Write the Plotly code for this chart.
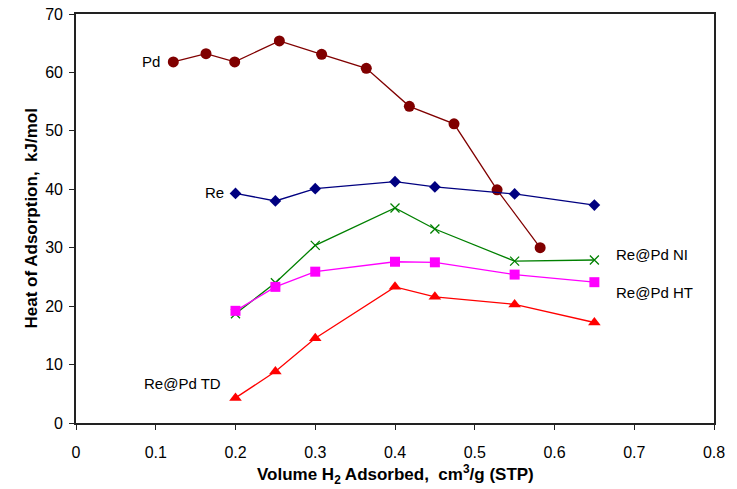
import plotly.graph_objects as go

pd_x = [0.122, 0.163, 0.199, 0.255, 0.308, 0.364, 0.418, 0.474, 0.528, 0.582]
pd_y = [61.8, 63.2, 61.8, 65.4, 63.1, 60.7, 54.2, 51.2, 39.9, 30.0]

re_x = [0.2, 0.25, 0.3, 0.4, 0.45, 0.55, 0.65]
re_y = [39.3, 38.0, 40.1, 41.3, 40.4, 39.2, 37.3]

ni_x = [0.2, 0.25, 0.3, 0.4, 0.45, 0.55, 0.65]
ni_y = [18.7, 24.0, 30.4, 36.8, 33.2, 27.7, 27.9]

ht_x = [0.2, 0.25, 0.3, 0.4, 0.45, 0.55, 0.65]
ht_y = [19.2, 23.3, 25.9, 27.6, 27.5, 25.4, 24.1]

td_x = [0.2, 0.25, 0.3, 0.4, 0.45, 0.55, 0.65]
td_y = [4.3, 8.8, 14.5, 23.3, 21.6, 20.3, 17.2]

labels = ["Pd", "Re", "Re@Pd NI", "Re@Pd HT", "Re@Pd TD"]
label_x = [0.108, 0.188, 0.675, 0.675, 0.134]
label_y = [61.8, 39.4, 28.8, 22.4, 6.7]
label_anchor = ["right", "right", "left", "left", "center"]

x_title = "<b>Volume H<sub>2</sub> Adsorbed,  cm<sup>3</sup>/g (STP)</b>"
y_title = "<b>Heat of Adsorption,  kJ/mol</b>"

x_range = [0, 0.8]
y_range = [0, 70]

fig = go.Figure()
fig.add_trace(go.Scatter(x=pd_x, y=pd_y, mode="lines+markers", name="Pd",
                         line=dict(color="#800000", width=1.3),
                         marker=dict(symbol="circle", size=11, color="#800000")))
fig.add_trace(go.Scatter(x=re_x, y=re_y, mode="lines+markers", name="Re",
                         line=dict(color="#000080", width=1.3),
                         marker=dict(symbol="diamond", size=9, color="#000080")))
fig.add_trace(go.Scatter(x=ni_x, y=ni_y, mode="lines+markers", name="Re@Pd NI",
                         line=dict(color="#008000", width=1.3),
                         marker=dict(symbol="x-thin", size=9, color="#008000",
                                     line=dict(color="#008000", width=1.3))))
fig.add_trace(go.Scatter(x=ht_x, y=ht_y, mode="lines+markers", name="Re@Pd HT",
                         line=dict(color="#FF00FF", width=1.3),
                         marker=dict(symbol="square", size=10, color="#FF00FF")))
fig.add_trace(go.Scatter(x=td_x, y=td_y, mode="lines+markers", name="Re@Pd TD",
                         line=dict(color="#FF0000", width=1.3),
                         marker=dict(symbol="triangle-up", size=11, color="#FF0000")))
# empty trace so the overlay axes (which carry the tick labels) exist
fig.add_trace(go.Scatter(x=[], y=[], xaxis="x2", yaxis="y2", showlegend=False,
                         hoverinfo="skip"))

for t, x, y, a in zip(labels, label_x, label_y, label_anchor):
    fig.add_annotation(x=x, y=y, text=t, showarrow=False, xanchor=a,
                       yanchor="middle", font=dict(size=15, color="#000000",
                                                   family="Liberation Sans, Arial"))

# axis titles as annotations so they sit exactly where the reference has them
fig.add_annotation(xref="paper", yref="paper", x=-0.069, y=0.5, text=y_title,
                   textangle=-90, showarrow=False, xanchor="center", yanchor="middle",
                   font=dict(size=17, color="#000000", family="Liberation Sans, Arial"))
fig.add_annotation(xref="paper", yref="paper", x=0.5, y=-0.125, text=x_title,
                   showarrow=False, xanchor="center", yanchor="middle",
                   font=dict(size=17, color="#000000", family="Liberation Sans, Arial"))

fig.update_layout(
    width=737, height=489,
    margin=dict(l=76, r=23, t=14, b=66),
    plot_bgcolor="white", paper_bgcolor="white",
    showlegend=False,
    font=dict(family="Liberation Sans, Arial", size=15, color="#000000"),
    # primary axes: frame and tick marks only
    xaxis=dict(range=x_range, dtick=0.1, tick0=0, showgrid=False, zeroline=False,
               showline=True, linecolor="#222222", linewidth=1.5, mirror=True,
               ticks="outside", ticklen=5, tickcolor="#222222", automargin=False,
               showticklabels=False),
    yaxis=dict(range=y_range, dtick=10, showgrid=False, zeroline=False,
               showline=True, linecolor="#222222", linewidth=1.5, mirror=True,
               ticks="outside", ticklen=5, tickcolor="#222222", automargin=False,
               showticklabels=False),
    # overlay axes: tick labels only, pushed away from the frame
    xaxis2=dict(range=x_range, dtick=0.1, tick0=0, overlaying="x", anchor="y2",
                side="bottom", showgrid=False, zeroline=False, showline=False,
                ticks="", automargin=False, tickfont=dict(size=16),
                ticklabelstandoff=18),
    yaxis2=dict(range=y_range, dtick=10, overlaying="y", anchor="x2", side="left",
                showgrid=False, zeroline=False, showline=False, ticks="",
                automargin=False, tickfont=dict(size=16), ticklabelstandoff=12),
)

fig.write_html("out.html", config={"displayModeBar": False},
               post_script="document.body.style.margin='0px';document.body.style.overflow='hidden';")
